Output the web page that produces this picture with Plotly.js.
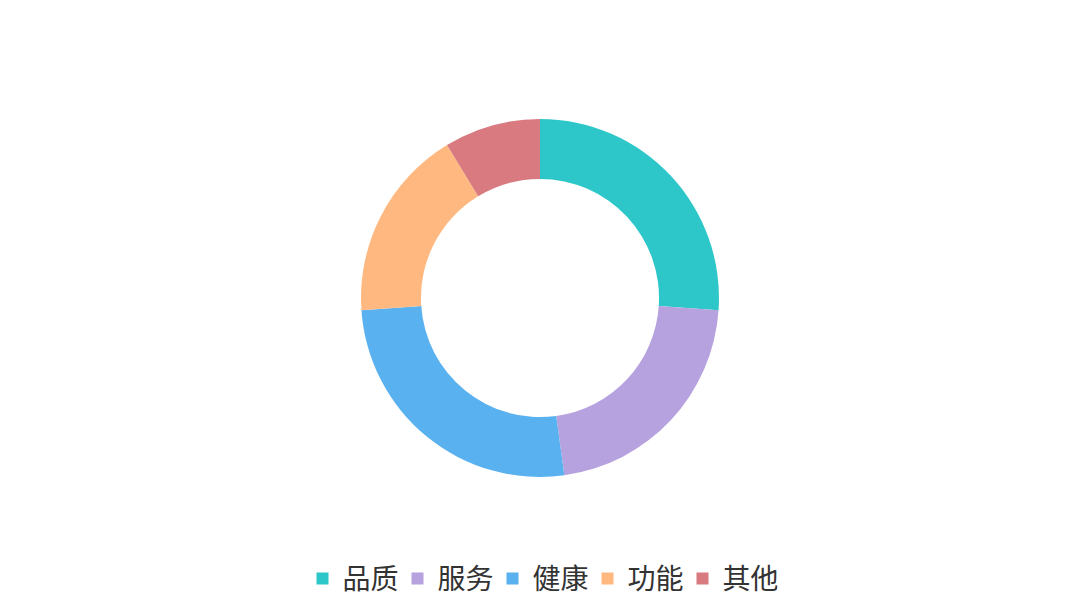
<!DOCTYPE html>
<html>
<head>
<meta charset="utf-8">
<script src="https://cdn.plot.ly/plotly-3.0.1.min.js"></script>
<style>html,body{margin:0;padding:0;background:#fff;}#chart{width:1080px;height:596px;}</style>
</head>
<body>
<div id="chart"></div>
<script>
var categories = ['品质', '服务', '健康', '功能', '其他'];
var values = [30, 25, 30, 20, 10];
var colors = ['#2ec7c9', '#b6a2de', '#5ab1ef', '#ffb980', '#d87a80'];

var data = [{
  type: 'pie',
  labels: categories,
  values: values,
  hole: 0.665,
  sort: false,
  direction: 'clockwise',
  rotation: 0,
  textinfo: 'none',
  marker: {colors: colors, line: {width: 0}},
  domain: {x: [0, 1], y: [0.1997, 0.8003]},
  hoverinfo: 'label+value+percent'
}];

var layout = {
  width: 1080,
  height: 596,
  margin: {l: 0, r: 0, t: 0, b: 0, autoexpand: false},
  paper_bgcolor: '#ffffff',
  showlegend: true,
  legend: {
    orientation: 'h',
    x: 0.5, xanchor: 'center',
    y: 0.029, yanchor: 'middle',
    font: {family: '"Noto Sans CJK SC", "Noto Sans", sans-serif', size: 28, color: '#333333'},
    itemwidth: 30,
    entrywidth: 50,
    entrywidthmode: 'pixels',
    tracegroupgap: 0
  },
  font: {family: '"Noto Sans CJK SC", sans-serif'}
};

Plotly.newPlot('chart', data, layout, {displayModeBar: false, staticPlot: true});
</script>
</body>
</html>
